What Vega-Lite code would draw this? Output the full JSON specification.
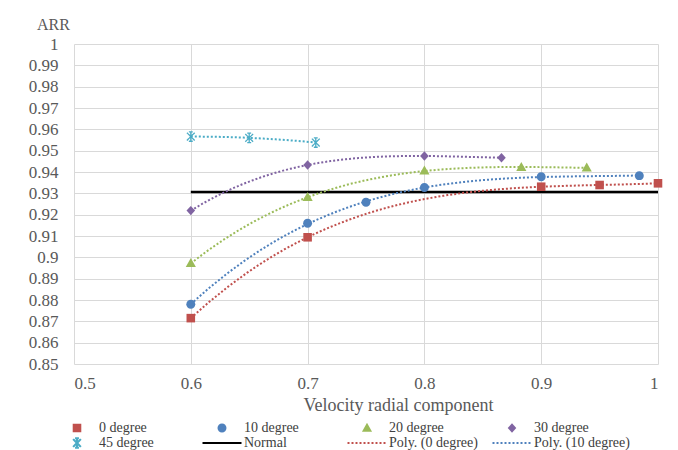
{
  "$schema": "https://vega.github.io/schema/vega-lite/v6.json",
  "width": 584,
  "height": 320,
  "autosize": {"type": "none"},
  "padding": {"left": 74, "top": 44, "right": 20, "bottom": 86},
  "background": "white",
  "config": {
    "view": {"stroke": null},
    "font": "Liberation Serif",
    "axis": {
      "grid": true, "gridColor": "#d9d9d9", "gridWidth": 1,
      "domain": false, "ticks": false, "tickSize": 0,
      "labelFont": "Liberation Serif", "labelFontSize": 17, "labelColor": "#595959",
      "titleFont": "Liberation Serif", "titleFontSize": 18, "titleColor": "#595959", "titleFontWeight": "normal"
    },
    "legend": {
      "title": null, "orient": "none", "legendX": -17.5, "legendY": 376.5,
      "direction": "horizontal", "columns": 4, "gridAlign": "all",
      "clipHeight": 15, "rowPadding": 0, "columnPadding": 6,
      "symbolOffset": 0, "symbolSize": 1521, "symbolStrokeWidth": 2, "symbolOpacity": 1,
      "symbolFillColor": "transparent", "symbolStrokeColor": "transparent",
      "labelOffset": 1.5, "labelFont": "Liberation Serif", "labelFontSize": 14,
      "labelColor": "#404040", "labelLimit": 0, "padding": 0
    }
  },
  "datasets": {
    "pts": [
      {"x": 0.6, "y": 0.8715, "s": "0 degree"},
      {"x": 0.7, "y": 0.9094, "s": "0 degree"},
      {"x": 0.9, "y": 0.9331, "s": "0 degree"},
      {"x": 0.95, "y": 0.9339, "s": "0 degree"},
      {"x": 1.0, "y": 0.9347, "s": "0 degree"},
      {"x": 0.6, "y": 0.878, "s": "10 degree"},
      {"x": 0.7, "y": 0.916, "s": "10 degree"},
      {"x": 0.75, "y": 0.9258, "s": "10 degree"},
      {"x": 0.8, "y": 0.9327, "s": "10 degree"},
      {"x": 0.9, "y": 0.9378, "s": "10 degree"},
      {"x": 0.984, "y": 0.9383, "s": "10 degree"},
      {"x": 0.6, "y": 0.8972, "s": "20 degree"},
      {"x": 0.7, "y": 0.9281, "s": "20 degree"},
      {"x": 0.8, "y": 0.9406, "s": "20 degree"},
      {"x": 0.883, "y": 0.9422, "s": "20 degree"},
      {"x": 0.939, "y": 0.942, "s": "20 degree"},
      {"x": 0.6, "y": 0.9219, "s": "30 degree"},
      {"x": 0.7, "y": 0.9433, "s": "30 degree"},
      {"x": 0.8, "y": 0.9475, "s": "30 degree"},
      {"x": 0.866, "y": 0.9467, "s": "30 degree"},
      {"x": 0.6, "y": 0.9566, "s": "45 degree"},
      {"x": 0.65, "y": 0.956, "s": "45 degree"},
      {"x": 0.707, "y": 0.9538, "s": "45 degree"}
    ],
    "normal": [
      {"x": 0.6, "y": 0.9306},
      {"x": 1.0, "y": 0.9306}
    ]
  },
  "encoding": {
    "x": {
      "field": "x", "type": "quantitative",
      "scale": {"domain": [0.5, 1], "nice": false, "zero": false},
      "axis": {
        "values": [0.5, 0.6, 0.7, 0.8, 0.9, 1], "format": "~g", "labelPadding": 11,
        "title": "Velocity radial component", "titleX": 324, "titleY": 41,
        "titleBaseline": "middle", "titleAlign": "center"
      }
    },
    "y": {
      "field": "y", "type": "quantitative",
      "scale": {"domain": [0.85, 1], "nice": false, "zero": false},
      "axis": {
        "values": [0.85, 0.86, 0.87, 0.88, 0.89, 0.9, 0.91, 0.92, 0.93, 0.94, 0.95, 0.96, 0.97, 0.98, 0.99, 1],
        "format": "~g", "labelPadding": 16,
        "title": "ARR", "titleAngle": 0, "titleX": -21, "titleY": -15,
        "titleAlign": "center", "titleBaseline": "alphabetic", "titleFontSize": 16
      }
    }
  },
  "layer": [
    {
      "data": {"name": "normal"},
      "mark": {"type": "line", "color": "#000000", "strokeWidth": 2.5},
      "encoding": {}
    },
    {
      "data": {"name": "pts"},
      "transform": [
        {"filter": "datum.s !== '45 degree'"},
        {"regression": "y", "on": "x", "groupby": ["s"], "method": "poly", "order": 3}
      ],
      "mark": {"type": "line", "strokeWidth": 2, "strokeDash": [2, 2]},
      "encoding": {
        "color": {
          "field": "s", "type": "nominal",
          "scale": {
            "domain": ["0 degree", "10 degree", "20 degree", "30 degree", "45 degree"],
            "range": ["#C0504D", "#4F81BD", "#9BBB59", "#8064A2", "#4BACC6"]
          },
          "legend": null
        }
      }
    },
    {
      "data": {"name": "pts"},
      "transform": [
        {"filter": "datum.s === '45 degree'"},
        {"regression": "y", "on": "x", "groupby": ["s"], "method": "poly", "order": 2}
      ],
      "mark": {"type": "line", "strokeWidth": 2, "strokeDash": [2, 2]},
      "encoding": {
        "color": {
          "field": "s", "type": "nominal",
          "scale": {
            "domain": ["0 degree", "10 degree", "20 degree", "30 degree", "45 degree"],
            "range": ["#C0504D", "#4F81BD", "#9BBB59", "#8064A2", "#4BACC6"]
          },
          "legend": null
        }
      }
    },
    {
      "data": {"name": "pts"},
      "mark": {"type": "point", "size": 1521, "opacity": 1, "strokeWidth": 1.3},
      "encoding": {
        "fill": {
          "field": "s", "type": "nominal",
          "scale": {
            "domain": ["0 degree", "10 degree", "20 degree", "30 degree", "45 degree", "Normal", "Poly. (0 degree)", "Poly. (10 degree)"],
            "range": ["#C0504D", "#4F81BD", "#9BBB59", "#8064A2", "transparent", "transparent", "transparent", "transparent"]
          }
        },
        "stroke": {
          "field": "s", "type": "nominal",
          "scale": {
            "domain": ["0 degree", "10 degree", "20 degree", "30 degree", "45 degree", "Normal", "Poly. (0 degree)", "Poly. (10 degree)"],
            "range": ["transparent", "transparent", "transparent", "transparent", "#4BACC6", "#000000", "#C0504D", "#4F81BD"]
          }
        },
        "strokeDash": {
          "field": "s", "type": "nominal",
          "scale": {
            "domain": ["0 degree", "10 degree", "20 degree", "30 degree", "45 degree", "Normal", "Poly. (0 degree)", "Poly. (10 degree)"],
            "range": [[1, 0], [1, 0], [1, 0], [1, 0], [1, 0], [1, 0], [2, 2], [2, 2]]
          }
        },
        "shape": {
          "field": "s", "type": "nominal",
          "scale": {
            "domain": ["0 degree", "10 degree", "20 degree", "30 degree", "45 degree", "Normal", "Poly. (0 degree)", "Poly. (10 degree)"],
            "range": [
              "M-0.22,-0.22H0.22V0.22H-0.22Z",
              "M0.23,0A0.23,0.23,0,1,1,-0.23,0A0.23,0.23,0,1,1,0.23,0Z",
              "M0,-0.27L0.26,0.19L-0.26,0.19Z",
              "M0,-0.24L0.22,0L0,0.24L-0.22,0Z",
              "M-0.2,-0.2L0.2,0.2M-0.2,0.2L0.2,-0.2M0,-0.24V0.24M-0.1,-0.24H0.1M-0.1,0.24H0.1",
              "M-1,0H1",
              "M-1,0H1",
              "M-1,0H1"
            ]
          }
        }
      }
    }
  ]
}
